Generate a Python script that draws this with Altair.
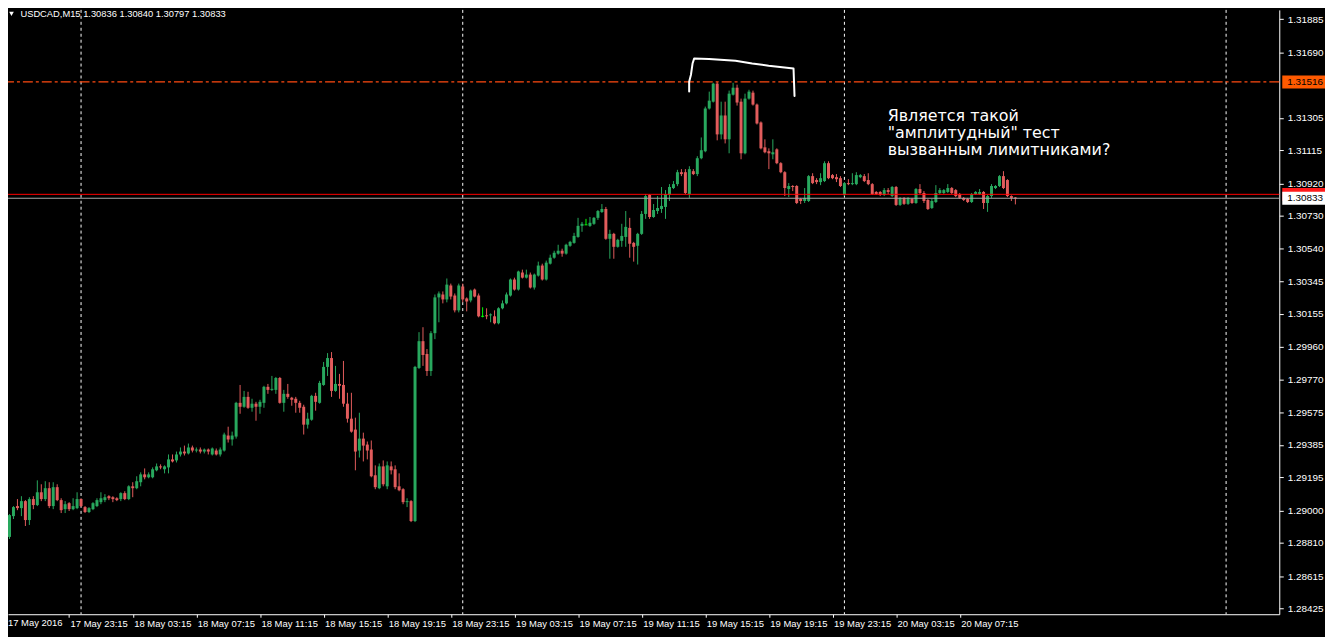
import altair as alt
import pandas as pd

# ---------------- data ----------------
symbol = "USDCAD,M15"
time_labels = ["17 May 2016", "17 May 23:15", "18 May 03:15", "18 May 07:15", "18 May 11:15",
               "18 May 15:15", "18 May 19:15", "18 May 23:15", "19 May 03:15", "19 May 07:15",
               "19 May 11:15", "19 May 15:15", "19 May 19:15", "19 May 23:15", "20 May 03:15",
               "20 May 07:15"]
label_step = 16
day_start_bars = [19, 115, 211, 307]
price_ticks = [1.31885, 1.31690, 1.31305, 1.31115, 1.30920, 1.30730, 1.30540, 1.30345,
               1.30155, 1.29960, 1.29770, 1.29575, 1.29385, 1.29195, 1.29000, 1.28810, 1.28615, 1.28425]
level_price = 1.31516
ask_price = 1.30856
bid_price = 1.30833
note_lines = ["Является такой", "\"амплитудный\" тест", "вызванным лимитниками?"]
bracket_bars = [171.95, 171.95, 172.4, 172.8, 173.2, 176.95, 183.6, 187.8, 191.95, 198.2, 198.45]
bracket_prices = [1.31459, 1.31517, 1.31558, 1.31624, 1.31653, 1.31650, 1.31640, 1.31624, 1.31611,
                  1.31595, 1.31434]

opens = [
    1.28745, 1.28845, 1.28967, 1.29026, 1.29014, 1.29055, 1.28944, 1.29067, 1.29032, 1.29107,
    1.29067, 1.29131, 1.29026, 1.29137, 1.29061, 1.29008, 1.29043, 1.29008, 1.29014, 1.29067,
    1.29020, 1.28991, 1.29008, 1.29026, 1.29049, 1.29061, 1.29084, 1.29078, 1.29072, 1.29067,
    1.29102, 1.29067, 1.29142, 1.29131, 1.29166, 1.29212, 1.29195, 1.29195, 1.29236, 1.29259,
    1.29242, 1.29253, 1.29300, 1.29294, 1.29329, 1.29346, 1.29335, 1.29370, 1.29352, 1.29358,
    1.29346, 1.29358, 1.29329, 1.29352, 1.29329, 1.29352, 1.29440, 1.29417, 1.29434, 1.29632,
    1.29609, 1.29667, 1.29603, 1.29627, 1.29609, 1.29632, 1.29726, 1.29708, 1.29708, 1.29778,
    1.29632, 1.29685, 1.29662, 1.29656, 1.29632, 1.29609, 1.29504, 1.29533, 1.29673, 1.29632,
    1.29737, 1.29843, 1.29895, 1.29702, 1.29743, 1.29737, 1.29627, 1.29539, 1.29475, 1.29352,
    1.29422, 1.29387, 1.29358, 1.29207, 1.29131, 1.29259, 1.29142, 1.29259, 1.29242, 1.29142,
    1.29125, 1.29049, 1.29055, 1.28938, 1.29837, 1.29994, 1.29919, 1.29819, 1.30041, 1.30251,
    1.30268, 1.30239, 1.30321, 1.30262, 1.30175, 1.30315, 1.30245, 1.30233, 1.30297, 1.30262,
    1.30140, 1.30146, 1.30146, 1.30140, 1.30099, 1.30187, 1.30216, 1.30262, 1.30356, 1.30297,
    1.30397, 1.30367, 1.30385, 1.30309, 1.30379, 1.30438, 1.30356, 1.30449, 1.30484, 1.30508,
    1.30525, 1.30508, 1.30554, 1.30571, 1.30606, 1.30671, 1.30677, 1.30671, 1.30683, 1.30718,
    1.30752, 1.30770, 1.30595, 1.30624, 1.30548, 1.30583, 1.30606, 1.30659, 1.30571, 1.30554,
    1.30624, 1.30741, 1.30852, 1.30723, 1.30758, 1.30770, 1.30782, 1.30852, 1.30893, 1.30916,
    1.30986, 1.30986, 1.30858, 1.30992, 1.30975, 1.31068, 1.31109, 1.31360, 1.31400, 1.31506,
    1.31208, 1.31319, 1.31179, 1.31441, 1.31482, 1.31400, 1.31097, 1.31418, 1.31453, 1.31383,
    1.31278, 1.31132, 1.31109, 1.31091, 1.31120, 1.31039, 1.30986, 1.30887, 1.30905, 1.30905,
    1.30829, 1.30817, 1.30817, 1.30963, 1.30940, 1.30928, 1.30934, 1.31039, 1.30969, 1.30957,
    1.30951, 1.30852, 1.30922, 1.30916, 1.30916, 1.30957, 1.30963, 1.30940, 1.30916, 1.30870,
    1.30870, 1.30852, 1.30881, 1.30846, 1.30899, 1.30794, 1.30835, 1.30800, 1.30829, 1.30805,
    1.30887, 1.30864, 1.30823, 1.30776, 1.30811, 1.30864, 1.30864, 1.30870, 1.30893, 1.30881,
    1.30858, 1.30835, 1.30829, 1.30811, 1.30858, 1.30858, 1.30870, 1.30805, 1.30846, 1.30893,
    1.30905, 1.30963, 1.30940, 1.30846, 1.30836]
highs = [
    1.28874, 1.28979, 1.29026, 1.29067, 1.29084, 1.29061, 1.29078, 1.29084, 1.29177, 1.29154,
    1.29172, 1.29166, 1.29166, 1.29154, 1.29072, 1.29055, 1.29049, 1.29072, 1.29107, 1.29072,
    1.29026, 1.29020, 1.29049, 1.29072, 1.29107, 1.29096, 1.29090, 1.29084, 1.29078, 1.29107,
    1.29113, 1.29148, 1.29166, 1.29201, 1.29224, 1.29247, 1.29224, 1.29253, 1.29276, 1.29271,
    1.29265, 1.29329, 1.29329, 1.29346, 1.29370, 1.29381, 1.29393, 1.29381, 1.29370, 1.29370,
    1.29364, 1.29364, 1.29370, 1.29364, 1.29370, 1.29457, 1.29492, 1.29463, 1.29638, 1.29737,
    1.29702, 1.29697, 1.29656, 1.29638, 1.29650, 1.29732, 1.29743, 1.29790, 1.29784, 1.29784,
    1.29708, 1.29743, 1.29667, 1.29667, 1.29644, 1.29621, 1.29574, 1.29679, 1.29691, 1.29761,
    1.29872, 1.29924, 1.29930, 1.29849, 1.29802, 1.29878, 1.29691, 1.29691, 1.29545, 1.29574,
    1.29457, 1.29405, 1.29411, 1.29265, 1.29276, 1.29294, 1.29288, 1.29288, 1.29265, 1.29218,
    1.29131, 1.29072, 1.29061, 1.29849, 1.30047, 1.30076, 1.29948, 1.30053, 1.30268, 1.30286,
    1.30286, 1.30362, 1.30332, 1.30274, 1.30332, 1.30332, 1.30251, 1.30297, 1.30303, 1.30274,
    1.30193, 1.30187, 1.30157, 1.30175, 1.30193, 1.30233, 1.30280, 1.30362, 1.30367, 1.30408,
    1.30414, 1.30414, 1.30397, 1.30391, 1.30461, 1.30449, 1.30467, 1.30502, 1.30525, 1.30560,
    1.30537, 1.30566, 1.30583, 1.30630, 1.30718, 1.30694, 1.30712, 1.30723, 1.30723, 1.30764,
    1.30799, 1.30782, 1.30648, 1.30630, 1.30595, 1.30683, 1.30758, 1.30718, 1.30577, 1.30630,
    1.30758, 1.30858, 1.30858, 1.30799, 1.30846, 1.30899, 1.30881, 1.30916, 1.30934, 1.31000,
    1.31004, 1.31004, 1.31021, 1.31004, 1.31080, 1.31190, 1.31371, 1.31459, 1.31511, 1.31516,
    1.31400, 1.31400, 1.31465, 1.31511, 1.31500, 1.31418, 1.31447, 1.31470, 1.31465, 1.31389,
    1.31284, 1.31179, 1.31126, 1.31179, 1.31126, 1.31045, 1.30992, 1.30922, 1.30910, 1.30910,
    1.30835, 1.30893, 1.30969, 1.30980, 1.30951, 1.30980, 1.31050, 1.31050, 1.30975, 1.30975,
    1.30963, 1.30928, 1.30945, 1.30980, 1.30986, 1.30975, 1.30975, 1.30980, 1.30922, 1.30875,
    1.30875, 1.30893, 1.30893, 1.30905, 1.30905, 1.30840, 1.30840, 1.30840, 1.30835, 1.30893,
    1.30916, 1.30875, 1.30829, 1.30829, 1.30910, 1.30893, 1.30887, 1.30916, 1.30899, 1.30887,
    1.30864, 1.30840, 1.30835, 1.30864, 1.30875, 1.30887, 1.30875, 1.30852, 1.30916, 1.30910,
    1.30969, 1.30992, 1.30945, 1.30850, 1.30840]
lows = [
    1.28740, 1.28833, 1.28950, 1.29002, 1.28967, 1.28909, 1.28915, 1.29008, 1.29026, 1.29055,
    1.29055, 1.29014, 1.29008, 1.29055, 1.28985, 1.28985, 1.28997, 1.29002, 1.29008, 1.29020,
    1.28985, 1.28985, 1.29002, 1.29020, 1.29037, 1.29049, 1.29061, 1.29049, 1.29055, 1.29055,
    1.29061, 1.29061, 1.29078, 1.29125, 1.29142, 1.29183, 1.29189, 1.29189, 1.29230, 1.29242,
    1.29218, 1.29218, 1.29282, 1.29282, 1.29317, 1.29323, 1.29329, 1.29341, 1.29341, 1.29335,
    1.29335, 1.29329, 1.29323, 1.29323, 1.29317, 1.29346, 1.29399, 1.29381, 1.29422, 1.29568,
    1.29603, 1.29597, 1.29580, 1.29527, 1.29568, 1.29603, 1.29685, 1.29702, 1.29685, 1.29627,
    1.29580, 1.29656, 1.29615, 1.29574, 1.29574, 1.29446, 1.29481, 1.29527, 1.29586, 1.29627,
    1.29732, 1.29790, 1.29667, 1.29697, 1.29656, 1.29609, 1.29516, 1.29457, 1.29236, 1.29311,
    1.29288, 1.29300, 1.29195, 1.29125, 1.29125, 1.29142, 1.29125, 1.29212, 1.29125, 1.29113,
    1.29037, 1.29020, 1.28932, 1.28932, 1.29831, 1.29849, 1.29790, 1.29790, 1.30006, 1.30105,
    1.30216, 1.30222, 1.30239, 1.30163, 1.30163, 1.30222, 1.30169, 1.30222, 1.30251, 1.30134,
    1.30134, 1.30123, 1.30105, 1.30093, 1.30093, 1.30181, 1.30210, 1.30256, 1.30291, 1.30291,
    1.30362, 1.30362, 1.30303, 1.30297, 1.30373, 1.30350, 1.30350, 1.30444, 1.30478, 1.30502,
    1.30490, 1.30502, 1.30548, 1.30566, 1.30601, 1.30636, 1.30677, 1.30665, 1.30677, 1.30706,
    1.30747, 1.30589, 1.30478, 1.30478, 1.30543, 1.30548, 1.30548, 1.30484, 1.30461, 1.30444,
    1.30618, 1.30712, 1.30712, 1.30718, 1.30741, 1.30747, 1.30712, 1.30817, 1.30887, 1.30904,
    1.30963, 1.30858, 1.30835, 1.30969, 1.30963, 1.31062, 1.31103, 1.31354, 1.31395, 1.31173,
    1.31179, 1.31155, 1.31097, 1.31436, 1.31377, 1.31062, 1.31091, 1.31412, 1.31377, 1.31266,
    1.31120, 1.31097, 1.31004, 1.31062, 1.31033, 1.30980, 1.30846, 1.30840, 1.30875, 1.30799,
    1.30799, 1.30805, 1.30811, 1.30916, 1.30916, 1.30910, 1.30928, 1.30945, 1.30945, 1.30928,
    1.30899, 1.30846, 1.30910, 1.30910, 1.30910, 1.30951, 1.30928, 1.30910, 1.30852, 1.30852,
    1.30846, 1.30846, 1.30858, 1.30840, 1.30788, 1.30788, 1.30794, 1.30794, 1.30800, 1.30800,
    1.30858, 1.30805, 1.30764, 1.30770, 1.30805, 1.30858, 1.30858, 1.30864, 1.30858, 1.30840,
    1.30829, 1.30817, 1.30805, 1.30805, 1.30852, 1.30852, 1.30770, 1.30753, 1.30835, 1.30887,
    1.30899, 1.30887, 1.30840, 1.30817, 1.30797]
closes = [
    1.28862, 1.28973, 1.29020, 1.29014, 1.29055, 1.28944, 1.29067, 1.29032, 1.29107, 1.29067,
    1.29131, 1.29026, 1.29137, 1.29061, 1.29002, 1.29037, 1.29008, 1.29026, 1.29067, 1.29026,
    1.28991, 1.29014, 1.29043, 1.29061, 1.29072, 1.29078, 1.29072, 1.29067, 1.29061, 1.29102,
    1.29067, 1.29142, 1.29131, 1.29172, 1.29212, 1.29195, 1.29212, 1.29242, 1.29259, 1.29253,
    1.29259, 1.29300, 1.29288, 1.29329, 1.29346, 1.29335, 1.29370, 1.29352, 1.29358, 1.29346,
    1.29358, 1.29346, 1.29364, 1.29329, 1.29358, 1.29446, 1.29417, 1.29440, 1.29632, 1.29609,
    1.29667, 1.29603, 1.29627, 1.29609, 1.29638, 1.29726, 1.29708, 1.29714, 1.29778, 1.29632,
    1.29685, 1.29667, 1.29650, 1.29632, 1.29603, 1.29504, 1.29539, 1.29673, 1.29638, 1.29749,
    1.29843, 1.29895, 1.29702, 1.29743, 1.29732, 1.29627, 1.29539, 1.29463, 1.29346, 1.29422,
    1.29381, 1.29352, 1.29201, 1.29137, 1.29259, 1.29154, 1.29265, 1.29236, 1.29137, 1.29119,
    1.29049, 1.29055, 1.28938, 1.29843, 1.29994, 1.29913, 1.29819, 1.30041, 1.30251, 1.30274,
    1.30239, 1.30326, 1.30256, 1.30175, 1.30321, 1.30239, 1.30227, 1.30291, 1.30256, 1.30140,
    1.30140, 1.30140, 1.30151, 1.30099, 1.30187, 1.30216, 1.30268, 1.30356, 1.30297, 1.30403,
    1.30367, 1.30385, 1.30309, 1.30385, 1.30438, 1.30356, 1.30455, 1.30484, 1.30513, 1.30525,
    1.30508, 1.30560, 1.30577, 1.30612, 1.30671, 1.30683, 1.30677, 1.30689, 1.30718, 1.30758,
    1.30770, 1.30595, 1.30624, 1.30548, 1.30589, 1.30612, 1.30665, 1.30566, 1.30548, 1.30624,
    1.30741, 1.30846, 1.30723, 1.30764, 1.30776, 1.30788, 1.30858, 1.30899, 1.30916, 1.30986,
    1.30975, 1.30864, 1.31004, 1.30975, 1.31068, 1.31115, 1.31360, 1.31406, 1.31506, 1.31208,
    1.31319, 1.31179, 1.31447, 1.31482, 1.31395, 1.31097, 1.31418, 1.31459, 1.31383, 1.31272,
    1.31126, 1.31103, 1.31097, 1.31103, 1.31039, 1.30986, 1.30893, 1.30905, 1.30899, 1.30805,
    1.30817, 1.30835, 1.30963, 1.30922, 1.30928, 1.30951, 1.31039, 1.30951, 1.30951, 1.30945,
    1.30905, 1.30922, 1.30916, 1.30922, 1.30969, 1.30969, 1.30934, 1.30916, 1.30858, 1.30858,
    1.30852, 1.30881, 1.30870, 1.30899, 1.30794, 1.30835, 1.30800, 1.30835, 1.30805, 1.30887,
    1.30864, 1.30817, 1.30770, 1.30817, 1.30864, 1.30881, 1.30881, 1.30893, 1.30864, 1.30846,
    1.30835, 1.30823, 1.30811, 1.30858, 1.30870, 1.30870, 1.30805, 1.30846, 1.30905, 1.30905,
    1.30963, 1.30893, 1.30846, 1.30835, 1.30833]

# ---------------- styling ----------------
GREEN = "#28a85e"
RED = "#e25c5c"
LIME = "#00ff00"
FONT = "Liberation Sans"
PLOT_W, PLOT_H = 1279, 608
TOTAL_W, TOTAL_H = 1325, 629
X_DOMAIN = [0.625, 320.375]
Y_DOMAIN = [1.283911, 1.3193876]
PX = (Y_DOMAIN[1] - Y_DOMAIN[0]) / PLOT_H

rows = []
for i, (o, h, l, c) in enumerate(zip(opens, highs, lows, closes)):
    d = "up" if c > o else ("down" if c < o else "doji")
    top, bot = max(o, c), min(o, c)
    if top - bot < PX:
        mid = (top + bot) / 2
        top, bot = mid + PX / 2, mid - PX / 2
    rows.append(dict(bar=i, open=o, high=h, low=l, close=c, dir=d,
                     left=i - 0.375, right=i + 0.375, top=top, bottom=bot))
df = pd.DataFrame(rows)

xs = alt.Scale(domain=X_DOMAIN, nice=False, zero=False)
ys = alt.Scale(domain=Y_DOMAIN, nice=False, zero=False)
color = alt.Color("dir:N", scale=alt.Scale(domain=["up", "down", "doji"], range=[GREEN, RED, LIME]),
                  legend=None)

label_js = "[" + ",".join("'" + s + "'" for s in time_labels) + "]"
x_axis = alt.Axis(values=[k * label_step for k in range(1, len(time_labels))],
                  labelExpr=label_js + f"[round(datum.value/{label_step})]",
                  labelAlign="left", labelBaseline="top", labelPadding=1, labelOffset=1,
                  tickSize=3, tickColor="white", domainColor="white", labelColor="white",
                  labelFont=FONT, labelFontSize=9.5, grid=False, title=None,
                  labelOverlap=False, labelFlush=False)
y_axis = alt.Axis(orient="right", values=price_ticks, format=".5f",
                  tickSize=4, labelPadding=4, tickColor="white", domainColor="white",
                  labelColor="white", labelFont=FONT, labelFontSize=10, grid=False, title=None,
                  labelOverlap=False, labelFlush=False, labelAlign="left", labelBaseline="middle")


def X(field):
    return alt.X(field, scale=xs, axis=x_axis)


def Y(field):
    return alt.Y(field, scale=ys, axis=y_axis)


wicks = alt.Chart(df).mark_rule(strokeWidth=1).encode(
    x=X("bar:Q"), y=Y("low:Q"), y2="high:Q", color=color)
bodies = alt.Chart(df).mark_rect().encode(
    x=X("left:Q"), x2="right:Q", y=Y("top:Q"), y2="bottom:Q", color=color)

days = alt.Chart(pd.DataFrame({"bar": day_start_bars})).mark_rule(
    color="white", strokeWidth=1, strokeDash=[3, 3]).encode(x=X("bar:Q"))

level = alt.Chart(pd.DataFrame({"p": [level_price]})).mark_rule(
    color="#ff4a10", strokeWidth=1.2, strokeDash=[10, 3, 3, 3]).encode(y=Y("p:Q"))
ask = alt.Chart(pd.DataFrame({"p": [ask_price]})).mark_rule(
    color="#ff0000", strokeWidth=1).encode(y=Y("p:Q"))
bid = alt.Chart(pd.DataFrame({"p": [bid_price]})).mark_rule(
    color="#a8a8a8", strokeWidth=1).encode(y=Y("p:Q"))

bracket = alt.Chart(pd.DataFrame({"seq": list(range(len(bracket_bars))), "bar": bracket_bars,
                                  "p": bracket_prices})).mark_line(
    color="white", strokeWidth=2, strokeJoin="round", strokeCap="round").encode(
    x=X("bar:Q"), y=Y("p:Q"), order="seq:Q")

boxes_df = pd.DataFrame({
    "p": [ask_price, bid_price, level_price],
    "fill": ["#ff1a1a", "#ffffff", "#ff5a00"],
})
labels_df = pd.DataFrame({
    "p": [bid_price, level_price],
    "label": [f"{v:.5f}" for v in (bid_price, level_price)],
})
boxes = alt.Chart(boxes_df).transform_calculate(
    top=f"datum.p + {6.5 * PX}", bot=f"datum.p - {6.5 * PX}").mark_rect().encode(
    x=alt.value(PLOT_W + 3), x2=alt.value(TOTAL_W),
    y=Y("top:Q"), y2="bot:Q",
    color=alt.Color("fill:N", scale=None))
box_text = alt.Chart(labels_df).mark_text(align="left", baseline="middle", font=FONT, fontSize=10,
                                          color="black").encode(
    x=alt.value(PLOT_W + 8), y=Y("p:Q"), text="label:N")

title_text = (f"{symbol}  {opens[-1]:.5f} {highs[-1]:.5f} {lows[-1]:.5f} {closes[-1]:.5f}")
title = alt.Chart(pd.DataFrame({"t": [title_text]})).mark_text(
    align="left", baseline="middle", font=FONT, fontSize=9.4, color="white").encode(
    x=alt.value(12.5), y=alt.value(4.5), text="t:N")
tri = alt.Chart(pd.DataFrame({"t": ["v"]})).mark_point(
    shape="triangle-down", filled=True, color="white", size=22, opacity=1).encode(
    x=alt.value(3.5), y=alt.value(4))

first_label = alt.Chart(pd.DataFrame({"t": [time_labels[0]]})).mark_text(
    align="left", baseline="top", font=FONT, fontSize=9.5, color="white").encode(
    x=alt.value(0), y=alt.value(PLOT_H + 4), text="t:N")

note = alt.Chart(pd.DataFrame({"t": ["\n".join(note_lines)]})).mark_text(
    align="left", baseline="middle", font="DejaVu Sans", fontSize=16, lineHeight=17, color="white",
    lineBreak="\n").encode(x=alt.value(885), y=alt.value(107), text="t:N")

chart = alt.layer(days, wicks, bodies, level, ask, bid, bracket, note, boxes, box_text,
                  title, tri, first_label).properties(
    width=PLOT_W, height=PLOT_H, background="black",
    padding={"left": 0, "top": 0, "right": TOTAL_W - PLOT_W, "bottom": TOTAL_H - PLOT_H},
    autosize=alt.AutoSizeParams(type="none"),
).configure_view(strokeWidth=0)

chart.save("out.html", embed_options={"renderer": "svg", "actions": False})
